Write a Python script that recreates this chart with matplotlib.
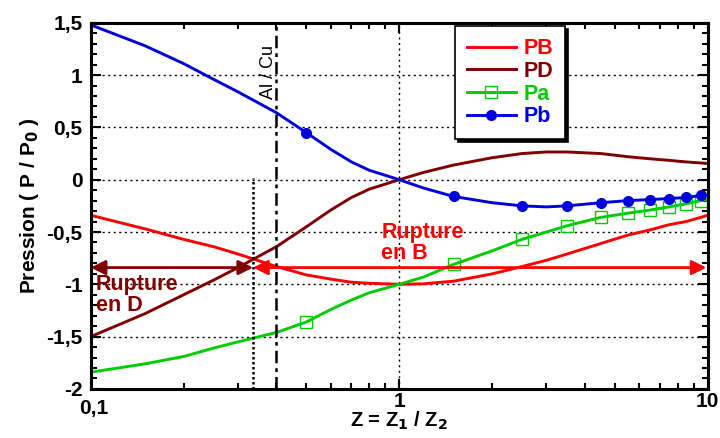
import matplotlib
matplotlib.use("Agg")
import matplotlib.pyplot as plt
from matplotlib.ticker import FixedLocator, MultipleLocator, NullFormatter
from matplotlib.transforms import ScaledTranslation

plt.rcParams["font.family"] = ["Liberation Sans", "DejaVu Sans"]
plt.rcParams["font.weight"] = "bold"

# --- données --------------------------------------------------------------
Z = [0.1, 0.15, 0.2, 0.25, 0.3, 0.4, 0.5, 0.6, 0.7, 0.8, 1.0, 1.2, 1.5, 2.0,
     2.5, 3.0, 3.5, 4.5, 5.5, 6.5, 7.5, 8.5, 9.5, 10.0]
PB = [-0.34, -0.47, -0.57, -0.64, -0.71, -0.83, -0.91, -0.95, -0.98, -0.99,
      -1.0, -0.995, -0.97, -0.90, -0.83, -0.77, -0.71, -0.61, -0.53, -0.48,
      -0.43, -0.40, -0.36, -0.34]
PD = [-1.50, -1.28, -1.10, -0.96, -0.84, -0.64, -0.45, -0.29, -0.17, -0.09,
      0.0, 0.07, 0.14, 0.21, 0.25, 0.265, 0.265, 0.25, 0.22, 0.20, 0.185,
      0.17, 0.16, 0.155]
Pa = [-1.84, -1.76, -1.69, -1.61, -1.55, -1.46, -1.36, -1.24, -1.15, -1.08,
      -1.0, -0.93, -0.81, -0.68, -0.57, -0.50, -0.44, -0.36, -0.32, -0.29,
      -0.26, -0.23, -0.20, -0.19]
Pb = [1.48, 1.28, 1.11, 0.96, 0.84, 0.64, 0.45, 0.29, 0.17, 0.09, 0.0,
      -0.08, -0.16, -0.22, -0.25, -0.26, -0.25, -0.22, -0.20, -0.19, -0.18,
      -0.17, -0.15, -0.15]
MARK_IDX = [6, 12, 14, 16, 17, 18, 19, 20, 21, 22]   # Z = 0,5 ; 1,5 ; ... ; 9,5

Z_RUPT = 0.336      # limite des ruptures
Z_ALCU = 0.40       # couple Al / Cu
P_RUPT = -0.84      # niveau des flèches
Y_TICKS = [-2, -1.5, -1, -0.5, 0, 0.5, 1, 1.5]
X_TICKS = [0.1, 1, 10]

C_PB, C_PD, C_PA, C_PBb = "#ff0000", "#800000", "#00cc00", "#0000dd"
LW = 2.1

fig = plt.figure(figsize=(7.2, 4.38), dpi=100)
ax = fig.add_axes([0.126, 0.112, 0.857, 0.836])

ax.plot(Z, PB, color=C_PB, lw=LW, label="PB")
ax.plot(Z, PD, color=C_PD, lw=LW, label="PD")
ax.plot(Z, Pa, color=C_PA, lw=LW, marker="s", ms=9, mfc="none", mec=C_PA,
        mew=1.0, markevery=MARK_IDX, label="Pa")
ax.plot(Z, Pb, color=C_PBb, lw=LW, marker="o", ms=7, mfc=C_PBb, mec=C_PBb,
        markevery=MARK_IDX, label="Pb")

# lignes verticales
ax.plot([Z_RUPT, Z_RUPT], [-2, 0.02], color="black", lw=1.8, ls=(0, (1.0, 1.0)))
ax.axvline(Z_ALCU, color="black", lw=1.8, ls=(0, (5, 2, 1.5, 2)))
ax.text(0.377, 1.03, "Al / Cu", rotation=90, ha="center", va="center",
        fontsize=13, fontweight="normal", color="black")

# flèches de rupture
ax.annotate("", xy=(0.1, P_RUPT), xytext=(Z_RUPT, P_RUPT),
            arrowprops=dict(arrowstyle="<|-|>", color=C_PD, lw=2,
                            mutation_scale=22, shrinkA=0, shrinkB=0))
ax.annotate("", xy=(Z_RUPT, P_RUPT), xytext=(9.9, P_RUPT),
            arrowprops=dict(arrowstyle="<|-|>", color=C_PB, lw=2,
                            mutation_scale=22, shrinkA=0, shrinkB=0))
ax.text(0.104, -0.9, "Rupture\nen D", color=C_PD, fontsize=15.5,
        fontweight="bold", ha="left", va="top", linespacing=1.0)
ax.text(0.875, -0.40, "Rupture\nen B", color=C_PB, fontsize=15.5,
        fontweight="bold", ha="left", va="top", linespacing=1.0)

# axes
ax.set_xscale("log")
ax.set_xlim(0.1, 10)
ax.set_ylim(-2, 1.5)
ax.xaxis.set_major_locator(FixedLocator(X_TICKS))
ax.set_xticklabels([f"{v:g}".replace(".", ",") for v in X_TICKS])
ax.xaxis.set_minor_formatter(NullFormatter())
ax.yaxis.set_major_locator(FixedLocator(Y_TICKS))
ax.set_yticklabels([f"{v:g}".replace(".", ",") for v in Y_TICKS])
ax.yaxis.set_minor_locator(MultipleLocator(0.1))
ax.tick_params(which="both", direction="in", top=True, right=True,
               labelsize=15, width=1.5)
ax.tick_params(which="major", length=7)
ax.tick_params(axis="y", which="major", pad=6)
ax.tick_params(axis="x", which="major", pad=2)
ax.tick_params(which="minor", length=4)
for s in ax.spines.values():
    s.set_linewidth(2.2)
ax.grid(True, which="major", color="black", lw=1.0, ls=(0, (1.5, 2.5)))

# "0,1" un peu plus bas pour ne pas chevaucher "-2"
lbl = ax.xaxis.get_major_ticks()[0].label1
lbl.set_transform(lbl.get_transform() + ScaledTranslation(2 / 72, -5 / 72, fig.dpi_scale_trans))

ax.set_xlabel("Z = Z$_\\mathbf{1}$ / Z$_\\mathbf{2}$", fontsize=14.5,
              fontweight="bold")
ax.xaxis.set_label_coords(0.5, -0.088, transform=ax.transAxes)
ax.xaxis.label.set_va("center")
ax.set_ylabel("Pression ( P / P$_\\mathbf{0}$ )", fontsize=15,
              fontweight="bold", labelpad=4)

leg = ax.legend(loc="upper left", bbox_to_anchor=(0.59, 0.99), fontsize=15.5,
                frameon=True, fancybox=False, shadow={"color": "black", "alpha": 1},
                edgecolor="black", framealpha=1, handlelength=2.3,
                labelspacing=0.08, borderpad=0.55, handletextpad=0.35,
                borderaxespad=0)
leg.get_frame().set_linewidth(1.2)
for txt, c in zip(leg.get_texts(), [C_PB, C_PD, C_PA, C_PBb]):
    txt.set_color(c)
    txt.set_fontweight("bold")

fig.savefig("out.png", dpi=100)
